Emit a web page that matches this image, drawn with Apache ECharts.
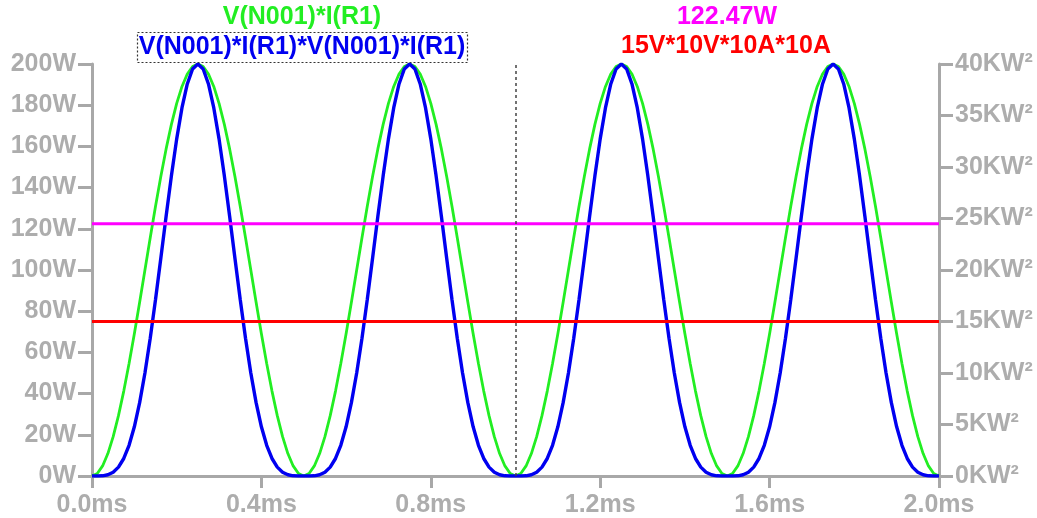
<!DOCTYPE html>
<html>
<head>
<meta charset="utf-8">
<script src="https://cdn.jsdelivr.net/npm/echarts@6/dist/echarts.min.js"></script>
<style>
html,body{margin:0;padding:0;background:#fff;}
#chart{width:1037px;height:518px;}
</style>
</head>
<body>
<div id="chart"></div>
<script>
// time in ms
const timesMs = [
0,0.0125,0.025,0.0375,0.05,0.0625,0.075,0.0875,0.1,0.1125,0.125,0.1375,0.15,0.1625,0.175,0.1875,0.2,0.2125,0.225,0.2375,
0.25,0.2625,0.275,0.2875,0.3,0.3125,0.325,0.3375,0.35,0.3625,0.375,0.3875,0.4,0.4125,0.425,0.4375,0.45,0.4625,0.475,0.4875,
0.5,0.5125,0.525,0.5375,0.55,0.5625,0.575,0.5875,0.6,0.6125,0.625,0.6375,0.65,0.6625,0.675,0.6875,0.7,0.7125,0.725,0.7375,
0.75,0.7625,0.775,0.7875,0.8,0.8125,0.825,0.8375,0.85,0.8625,0.875,0.8875,0.9,0.9125,0.925,0.9375,0.95,0.9625,0.975,0.9875,
1.0,1.0125,1.025,1.0375,1.05,1.0625,1.075,1.0875,1.1,1.1125,1.125,1.1375,1.15,1.1625,1.175,1.1875,1.2,1.2125,1.225,1.2375,
1.25,1.2625,1.275,1.2875,1.3,1.3125,1.325,1.3375,1.35,1.3625,1.375,1.3875,1.4,1.4125,1.425,1.4375,1.45,1.4625,1.475,1.4875,
1.5,1.5125,1.525,1.5375,1.55,1.5625,1.575,1.5875,1.6,1.6125,1.625,1.6375,1.65,1.6625,1.675,1.6875,1.7,1.7125,1.725,1.7375,
1.75,1.7625,1.775,1.7875,1.8,1.8125,1.825,1.8375,1.85,1.8625,1.875,1.8875,1.9,1.9125,1.925,1.9375,1.95,1.9625,1.975,1.9875,
2.0];

// V(N001)*I(R1) in W (left axis)
const powerW = [
0,1.23,4.89,10.90,19.10,29.29,41.22,54.60,69.10,84.36,100,115.64,130.90,145.40,158.78,170.71,180.90,189.10,195.11,198.77,
200,198.77,195.11,189.10,180.90,170.71,158.78,145.40,130.90,115.64,100,84.36,69.10,54.60,41.22,29.29,19.10,10.90,4.89,1.23,
0,1.23,4.89,10.90,19.10,29.29,41.22,54.60,69.10,84.36,100,115.64,130.90,145.40,158.78,170.71,180.90,189.10,195.11,198.77,
200,198.77,195.11,189.10,180.90,170.71,158.78,145.40,130.90,115.64,100,84.36,69.10,54.60,41.22,29.29,19.10,10.90,4.89,1.23,
0,1.23,4.89,10.90,19.10,29.29,41.22,54.60,69.10,84.36,100,115.64,130.90,145.40,158.78,170.71,180.90,189.10,195.11,198.77,
200,198.77,195.11,189.10,180.90,170.71,158.78,145.40,130.90,115.64,100,84.36,69.10,54.60,41.22,29.29,19.10,10.90,4.89,1.23,
0,1.23,4.89,10.90,19.10,29.29,41.22,54.60,69.10,84.36,100,115.64,130.90,145.40,158.78,170.71,180.90,189.10,195.11,198.77,
200,198.77,195.11,189.10,180.90,170.71,158.78,145.40,130.90,115.64,100,84.36,69.10,54.60,41.22,29.29,19.10,10.90,4.89,1.23,
0];

// V(N001)*I(R1)*V(N001)*I(R1) in KW^2 (right axis)
const powerSqKW2 = [
0,0,0.02,0.12,0.37,0.86,1.70,2.98,4.78,7.12,10,13.37,17.14,21.14,25.21,29.14,32.73,35.76,38.06,39.51,
40,39.51,38.06,35.76,32.73,29.14,25.21,21.14,17.14,13.37,10,7.12,4.78,2.98,1.70,0.86,0.37,0.12,0.02,0,
0,0,0.02,0.12,0.37,0.86,1.70,2.98,4.78,7.12,10,13.37,17.14,21.14,25.21,29.14,32.73,35.76,38.06,39.51,
40,39.51,38.06,35.76,32.73,29.14,25.21,21.14,17.14,13.37,10,7.12,4.78,2.98,1.70,0.86,0.37,0.12,0.02,0,
0,0,0.02,0.12,0.37,0.86,1.70,2.98,4.78,7.12,10,13.37,17.14,21.14,25.21,29.14,32.73,35.76,38.06,39.51,
40,39.51,38.06,35.76,32.73,29.14,25.21,21.14,17.14,13.37,10,7.12,4.78,2.98,1.70,0.86,0.37,0.12,0.02,0,
0,0,0.02,0.12,0.37,0.86,1.70,2.98,4.78,7.12,10,13.37,17.14,21.14,25.21,29.14,32.73,35.76,38.06,39.51,
40,39.51,38.06,35.76,32.73,29.14,25.21,21.14,17.14,13.37,10,7.12,4.78,2.98,1.70,0.86,0.37,0.12,0.02,0,
0];

// horizontal reference levels (left axis, W)
const rmsLevelW = [122.47, 122.47];
const constLevelW = [75, 75];
const levelTimes = [0, 2.0];
const cursorTimeMs = 1.0;

const leftTicks = {min:0, max:200, interval:20};
const rightTicks = {min:0, max:40, interval:5};
const xTicks = {min:0, max:2, interval:0.4};

const labels = {
  green: 'V(N001)*I(R1)',
  blue: 'V(N001)*I(R1)*V(N001)*I(R1)',
  magenta: '122.47W',
  red: '15V*10V*10A*10A'
};

const FONT = '"Liberation Sans", Arial, sans-serif';
const GRAY = '#adadad';
const AXIS = '#a8a8a8';
const FS = 25;

const zip = (xs, ys) => xs.map((x, i) => [x, ys[i]]);

const chart = echarts.init(document.getElementById('chart'), null, {renderer:'canvas'});
const labelStyle = {color: GRAY, fontSize: FS, fontWeight: 'bold', fontFamily: FONT};

chart.setOption({
  animation: false,
  backgroundColor: '#ffffff',
  grid: {left: 92, right: 98, top: 64, bottom: 42, containLabel: false},
  xAxis: [{
    type: 'value', min: xTicks.min, max: xTicks.max, interval: xTicks.interval,
    position: 'bottom',
    axisLine: {show: true, onZero: false, lineStyle: {color: '#888', width: 1.5, type: [4, 3]}},
    axisTick: {show: true, length: 12, inside: false, lineStyle: {color: AXIS, width: 3}},
    axisLabel: Object.assign({margin: 17, formatter: v => v.toFixed(1) + 'ms'}, labelStyle),
    splitLine: {show: false}
  }, {
    type: 'value', min: xTicks.min, max: xTicks.max, position: 'top',
    axisLine: {show: true, lineStyle: {color: AXIS, width: 3}},
    axisTick: {show: false}, axisLabel: {show: false}, splitLine: {show: false}
  }],
  yAxis: [{
    type: 'value', min: leftTicks.min, max: leftTicks.max, interval: leftTicks.interval,
    position: 'left',
    axisLine: {show: true, onZero: false, lineStyle: {color: AXIS, width: 3}},
    axisTick: {show: true, length: 14, lineStyle: {color: AXIS, width: 3}},
    axisLabel: Object.assign({margin: 16, formatter: '{value}W'}, labelStyle),
    splitLine: {show: false}
  }, {
    type: 'value', min: rightTicks.min, max: rightTicks.max, interval: rightTicks.interval,
    position: 'right',
    axisLine: {show: true, onZero: false, lineStyle: {color: AXIS, width: 3}},
    axisTick: {show: true, length: 14, lineStyle: {color: AXIS, width: 3}},
    axisLabel: Object.assign({margin: 16, formatter: '{value}KW²'}, labelStyle),
    splitLine: {show: false}
  }],
  series: [{
    name: labels.green, type: 'line', xAxisIndex: 0, yAxisIndex: 0,
    data: zip(timesMs, powerW), showSymbol: false, symbol: 'none',
    lineStyle: {color: '#22ee22', width: 2.8},
    markLine: {
      silent: true, symbol: ['none', 'none'], label: {show: false},
      lineStyle: {color: '#444', width: 1.5, type: [3, 3]},
      data: [{xAxis: cursorTimeMs}]
    }
  }, {
    name: labels.blue, type: 'line', xAxisIndex: 0, yAxisIndex: 1,
    data: zip(timesMs, powerSqKW2), showSymbol: false, symbol: 'none',
    lineStyle: {color: '#0000f0', width: 3.4}
  }, {
    name: labels.magenta, type: 'line', xAxisIndex: 0, yAxisIndex: 0,
    data: zip(levelTimes, rmsLevelW), showSymbol: false, symbol: 'none',
    lineStyle: {color: '#ff00ff', width: 3}
  }, {
    name: labels.red, type: 'line', xAxisIndex: 0, yAxisIndex: 0,
    data: zip(levelTimes, constLevelW), showSymbol: false, symbol: 'none',
    lineStyle: {color: '#ff0000', width: 3}
  }],
  graphic: [
    {type: 'text', x: 302, y: 17, style: {text: labels.green, fill: '#22ee22', font: 'bold ' + FS + 'px ' + FONT, textAlign: 'center', textVerticalAlign: 'middle'}},
    {type: 'rect', shape: {x: 137.5, y: 32.5, width: 330, height: 30}, style: {fill: 'none', stroke: '#333', lineWidth: 1.2, lineDash: [2, 2]}},
    {type: 'text', x: 302, y: 47, style: {text: labels.blue, fill: '#0000f0', font: 'bold ' + FS + 'px ' + FONT, textAlign: 'center', textVerticalAlign: 'middle'}},
    {type: 'text', x: 727, y: 17, style: {text: labels.magenta, fill: '#ff00ff', font: 'bold ' + FS + 'px ' + FONT, textAlign: 'center', textVerticalAlign: 'middle'}},
    {type: 'text', x: 726, y: 46, style: {text: labels.red, fill: '#ff0000', font: 'bold ' + FS + 'px ' + FONT, textAlign: 'center', textVerticalAlign: 'middle'}}
  ]
});
</script>
</body>
</html>
